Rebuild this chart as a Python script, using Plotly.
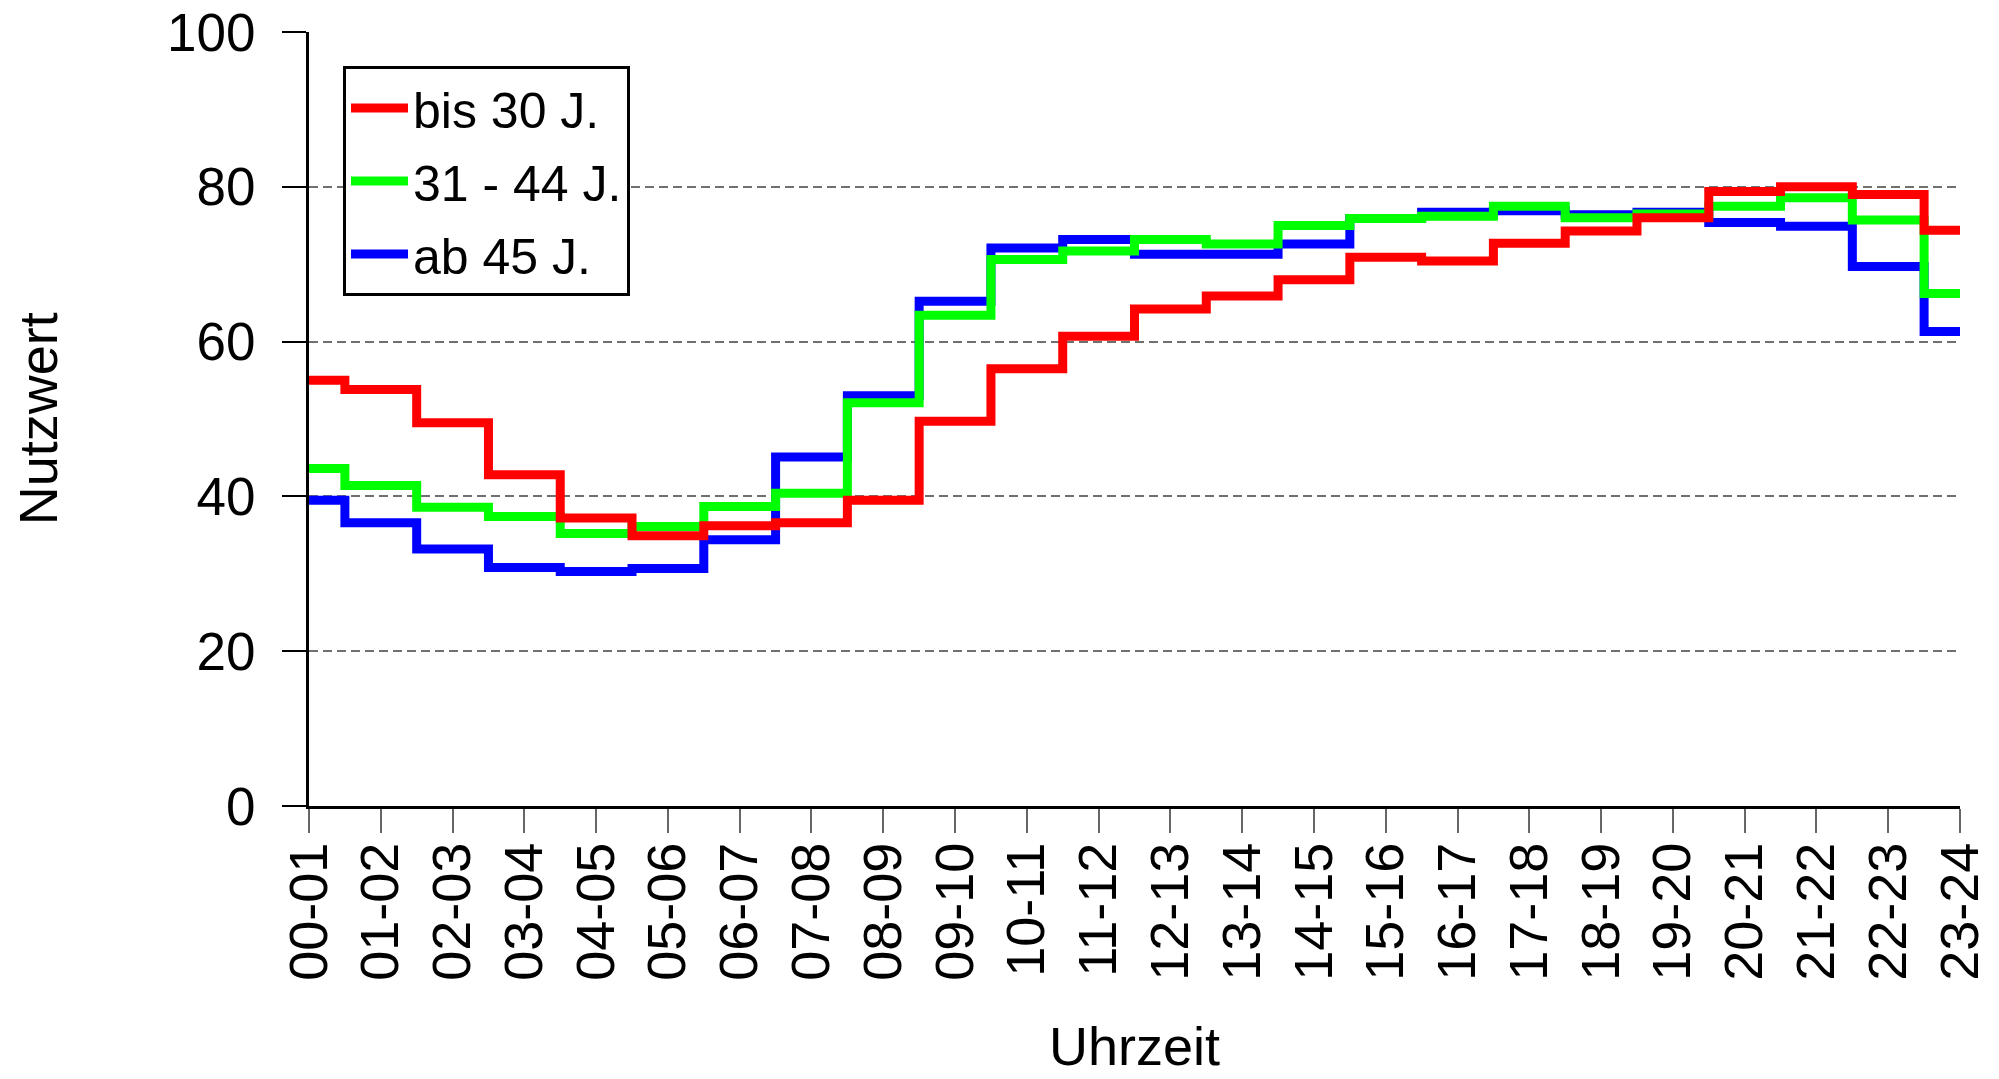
import plotly.graph_objects as go

# ── Daten ────────────────────────────────────────────────────────────────────
uhrzeit = [
    "00-01", "01-02", "02-03", "03-04", "04-05", "05-06", "06-07", "07-08",
    "08-09", "09-10", "10-11", "11-12", "12-13", "13-14", "14-15", "15-16",
    "16-17", "17-18", "18-19", "19-20", "20-21", "21-22", "22-23", "23-24",
]

bis_30 = [55.0, 53.8, 49.5, 42.8, 37.2, 34.9, 36.2, 36.6, 39.5, 49.7, 56.5, 60.7,
          64.2, 65.9, 68.0, 70.9, 70.4, 72.7, 74.3, 76.0, 79.4, 80.0, 79.0, 74.4]
von_31_44 = [43.6, 41.4, 38.6, 37.4, 35.2, 36.1, 38.7, 40.4, 52.1, 63.4, 70.6, 71.7,
             73.2, 72.6, 75.0, 75.9, 76.2, 77.5, 76.0, 76.5, 77.5, 78.6, 75.7, 66.2]
ab_45 = [39.5, 36.6, 33.2, 30.8, 30.3, 30.7, 34.4, 45.1, 53.0, 65.2, 72.1, 73.2,
         71.3, 71.3, 72.6, 75.9, 76.7, 76.9, 76.4, 76.7, 75.4, 74.9, 69.7, 61.3]

y_ticks = [0, 20, 40, 60, 80, 100]

FONT = "Liberation Sans, Arial, sans-serif"

# Reihenfolge der Zeichnung: blau unten, rot oben; Legende: rot, grün, blau
serien = [
    ("ab 45 J.",   ab_45,     "#0000FF", 3),
    ("31 - 44 J.", von_31_44, "#00FF00", 2),
    ("bis 30 J.",  bis_30,    "#FF0000", 1),
]

fig = go.Figure()
for name, werte, farbe, rang in serien:
    fig.add_trace(go.Scatter(
        x=uhrzeit, y=werte, name=name, mode="lines",
        line=dict(color=farbe, width=9, shape="hvh"),
        legendgroup=name, legendrank=rang,
    ))

# Achsentitel als Annotationen (genauer platzierbar)
fig.add_annotation(text="Uhrzeit", xref="paper", yref="paper",
                   x=0.5, y=-0.351, xanchor="center", yanchor="bottom",
                   showarrow=False, font=dict(family=FONT, size=54, color="black"))
fig.add_annotation(text="Nutzwert", xref="paper", yref="paper",
                   x=-0.164, y=0.5, xanchor="center", yanchor="middle",
                   textangle=-90, showarrow=False,
                   font=dict(family=FONT, size=54, color="black"))

fig.update_layout(
    template="none",
    width=1999, height=1079,
    paper_bgcolor="white", plot_bgcolor="white",
    font=dict(family=FONT, size=54, color="black"),
    margin=dict(l=309, r=39, t=32, b=273, autoexpand=False),
    showlegend=True,
    legend=dict(
        x=0.0206, y=0.956, xanchor="left", yanchor="top",
        bgcolor="white", bordercolor="black", borderwidth=3,
        font=dict(family=FONT, size=50, color="black"),
        traceorder="grouped", tracegroupgap=5, itemwidth=57,
    ),
    xaxis=dict(
        type="category", range=[0, 23],
        showline=True, linecolor="black", linewidth=3,
        ticks="outside", ticklen=24, tickwidth=1.5, tickcolor="#666666",
        tickangle=-90, tickfont=dict(size=54), ticklabelstandoff=-12,
        showgrid=False, zeroline=False, automargin=False,
    ),
    yaxis=dict(
        range=[0, 100], tickvals=y_ticks,
        showline=True, linecolor="black", linewidth=3,
        ticks="outside", ticklen=24, tickwidth=1.5, tickcolor="black",
        tickfont=dict(size=53), ticklabelstandoff=16,
        showgrid=True, gridcolor="#707070", gridwidth=1.5, griddash="9px,5px",
        zeroline=False, automargin=False,
    ),
)

fig.write_html("out.html", config={"displayModeBar": False},
               post_script="document.body.style.margin='0';")
